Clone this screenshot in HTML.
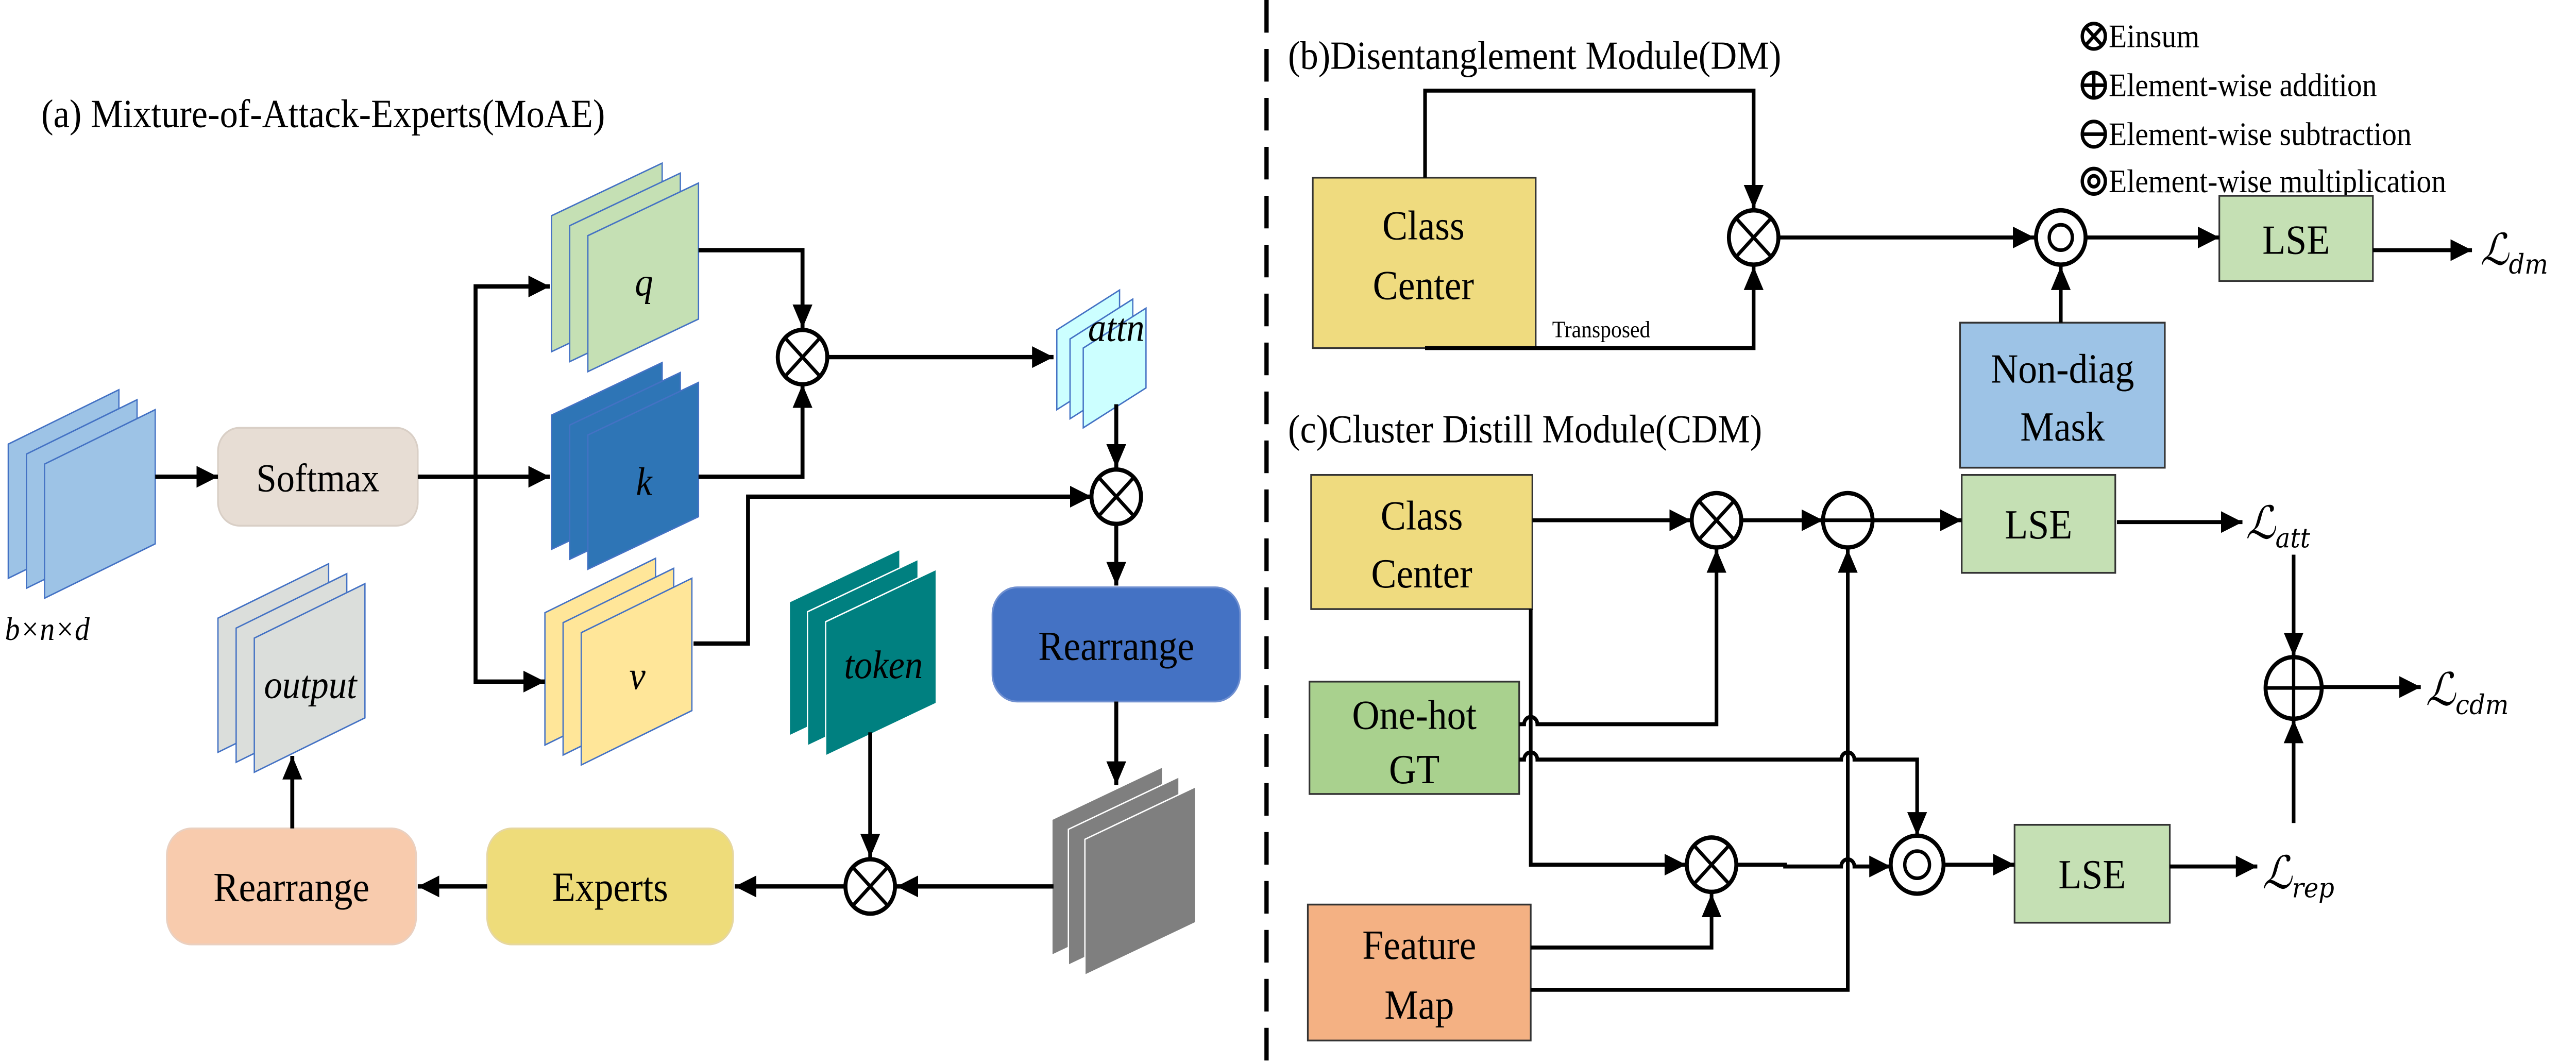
<!DOCTYPE html>
<html><head><meta charset="utf-8"><style>
html,body{margin:0;padding:0;background:#fff;width:100%;height:100%;overflow:hidden}
svg{display:block;position:absolute;left:0;top:0;width:100vw;height:100vh;font-family:"Liberation Serif","DejaVu Serif",serif}
.m{font-family:"DejaVu Serif",serif}
</style></head><body>
<svg xmlns="http://www.w3.org/2000/svg" viewBox="0 0 1560 586.4" preserveAspectRatio="none">
<defs>
<marker id="a" markerUnits="userSpaceOnUse" markerWidth="14" markerHeight="12" refX="13" refY="6" orient="auto"><path d="M0,0 L13,6 L0,12 z" fill="#000"/></marker>
</defs>
<rect width="1560" height="586.4" fill="#fff"/>
<line x1="767" y1="0" x2="767" y2="586" stroke="#000" stroke-dasharray="18,9" stroke-width="2.6"/>

<text x="25" y="70" font-size="22">(a) Mixture-of-Attack-Experts(MoAE)</text>
<text x="780" y="38" font-size="22">(b)Disentanglement Module(DM)</text>
<text x="780" y="244" font-size="22">(c)Cluster Distill Module(CDM)</text>

<g stroke="#4472c4" stroke-width="0.8">
<g fill="#9dc3e6">
<polygon points="5,245 72,215 72,289 5,319"/>
<polygon points="16,250.5 83,220.5 83,294.5 16,324.5"/>
<polygon points="27,256 94,226 94,300 27,330"/>
</g>
<g fill="#c5e0b4">
<polygon points="334,119 401,90 401,165 334,194"/>
<polygon points="345,124.5 412,95.5 412,170.5 345,199.5"/>
<polygon points="356,130 423,101 423,176 356,205"/>
</g>
<g fill="#2e75b6">
<polygon points="334,229 401,200 401,274 334,303"/>
<polygon points="345,234.5 412,205.5 412,279.5 345,308.5"/>
<polygon points="356,240 423,211 423,285 356,314"/>
</g>
<g fill="#ffe699">
<polygon points="330,338 397,308 397,381 330,411"/>
<polygon points="341,343.5 408,313.5 408,386.5 341,416.5"/>
<polygon points="352,349 419,319 419,392 352,422"/>
</g>
<g fill="#ccffff">
<polygon points="640,182 678,160 678,204 640,226"/>
<polygon points="648,187 686,165 686,209 648,231"/>
<polygon points="656,192 694,170 694,214 656,236"/>
</g>
<g fill="#dbdedb">
<polygon points="132,341 199,311 199,385 132,415"/>
<polygon points="143,346.5 210,316.5 210,390.5 143,420.5"/>
<polygon points="154,352 221,322 221,396 154,426"/>
</g>
</g>
<g stroke="#ffffff" stroke-width="0.8">
<g fill="#008080">
<polygon points="478,332 545,303 545,377 478,406"/>
<polygon points="489,337.5 556,308.5 556,382.5 489,411.5"/>
<polygon points="500,343 567,314 567,388 500,417"/>
</g>
<g fill="#7f7f7f">
<polygon points="637,452 704,423 704,498 637,527"/>
<polygon points="647,457.5 714,428.5 714,503.5 647,532.5"/>
<polygon points="657,463 724,434 724,509 657,538"/>
</g>
</g>
<g font-style="italic" font-size="22" text-anchor="middle">
<text x="390" y="163">q</text>
<text x="390" y="273">k</text>
<text x="386" y="380">v</text>
<text x="676" y="188">attn</text>
<text x="535" y="374">token</text>
<text x="188" y="385">output</text>
</g>
<text x="3" y="353" font-size="18" font-style="italic">b×n×d</text>

<rect x="132" y="236" width="121" height="54" rx="13" fill="#e7ddd4" stroke="#d9cfc6"/>
<text x="192.5" y="271" font-size="22" text-anchor="middle">Softmax</text>
<rect x="601" y="324" width="150" height="63" rx="15" fill="#4472c4" stroke="#6f8fd0"/>
<text x="676" y="364" font-size="23" text-anchor="middle">Rearrange</text>
<rect x="295" y="457" width="149" height="64" rx="15" fill="#eedc7a" stroke="#e6d7a0"/>
<text x="369.5" y="497" font-size="23" text-anchor="middle">Experts</text>
<rect x="101" y="457" width="151" height="64" rx="15" fill="#f8cbad" stroke="#ead0c0"/>
<text x="176.5" y="497" font-size="23" text-anchor="middle">Rearrange</text>

<g fill="none" stroke="#000" stroke-width="2.4">
<line x1="94" y1="263" x2="132" y2="263" marker-end="url(#a)"/>
<line x1="253" y1="263" x2="333" y2="263" marker-end="url(#a)"/>
<polyline points="288,263 288,158 333,158" marker-end="url(#a)"/>
<polyline points="288,263 288,376 330,376" marker-end="url(#a)"/>
<polyline points="423,138 486,138 486,181" marker-end="url(#a)"/>
<polyline points="423,263 486,263 486,212" marker-end="url(#a)"/>
<line x1="501" y1="197" x2="638" y2="197" marker-end="url(#a)"/>
<polyline points="676,223 676,258" marker-end="url(#a)"/>
<polyline points="420,355 453,355 453,274 661,274" marker-end="url(#a)"/>
<line x1="676" y1="289" x2="676" y2="323" marker-end="url(#a)"/>
<line x1="676" y1="387" x2="676" y2="433" marker-end="url(#a)"/>
<line x1="638" y1="489" x2="543" y2="489" marker-end="url(#a)"/>
<line x1="527" y1="404" x2="527" y2="473" marker-end="url(#a)"/>
<line x1="511" y1="489" x2="445" y2="489" marker-end="url(#a)"/>
<line x1="295" y1="489" x2="253" y2="489" marker-end="url(#a)"/>
<line x1="177" y1="457" x2="177" y2="417" marker-end="url(#a)"/>
</g>
<g fill="#fff" stroke="#000" stroke-width="2.4">
<circle cx="486" cy="197" r="15"/>
<circle cx="676" cy="274" r="15"/>
<circle cx="527" cy="489" r="15"/>
</g>
<g stroke="#000" stroke-width="2">
<path d="M475.4,186.4 L496.6,207.6 M496.6,186.4 L475.4,207.6"/>
<path d="M665.4,263.4 L686.6,284.6 M686.6,263.4 L665.4,284.6"/>
<path d="M516.4,478.4 L537.6,499.6 M537.6,478.4 L516.4,499.6"/>
</g>

<g fill="none" stroke="#000" stroke-width="2">
<circle cx="1268" cy="20" r="7"/><path d="M1263,15 L1273,25 M1273,15 L1263,25"/>
<circle cx="1268" cy="47" r="7"/><path d="M1261,47 L1275,47 M1268,40 L1268,54"/>
<circle cx="1268" cy="74" r="7"/><path d="M1261,74 L1275,74"/>
<circle cx="1268" cy="100" r="7"/><circle cx="1268" cy="100" r="3"/>
</g>
<g font-size="18">
<text x="1277" y="26">Einsum</text>
<text x="1277" y="53">Element-wise addition</text>
<text x="1277" y="80">Element-wise subtraction</text>
<text x="1277" y="106">Element-wise multiplication</text>
</g>

<rect x="795" y="98" width="135" height="94" fill="#efdb7f" stroke="#333" stroke-width="1"/>
<text x="862" y="132" font-size="23" text-anchor="middle">Class</text>
<text x="862" y="165" font-size="23" text-anchor="middle">Center</text>
<rect x="1187" y="178" width="124" height="80" fill="#9dc3e6" stroke="#333" stroke-width="1"/>
<text x="1249" y="211" font-size="23" text-anchor="middle">Non-diag</text>
<text x="1249" y="243" font-size="23" text-anchor="middle">Mask</text>
<rect x="1344" y="108" width="93" height="47" fill="#c5e0b4" stroke="#333" stroke-width="1"/>
<text x="1390.5" y="140" font-size="23" text-anchor="middle">LSE</text>
<text x="940" y="186" font-size="13">Transposed</text>
<g fill="none" stroke="#000" stroke-width="2.2">
<polyline points="863,98 863,50 1062,50 1062,115" marker-end="url(#a)"/>
<polyline points="863,192 1062,192 1062,147" marker-end="url(#a)"/>
<line x1="1077" y1="131" x2="1232" y2="131" marker-end="url(#a)"/>
<line x1="1263" y1="131" x2="1344" y2="131" marker-end="url(#a)"/>
<line x1="1248" y1="178" x2="1248" y2="147" marker-end="url(#a)"/>
<line x1="1437" y1="138" x2="1497" y2="138" marker-end="url(#a)"/>
</g>
<g fill="#fff" stroke="#000" stroke-width="2.4">
<circle cx="1062" cy="131" r="15"/>
<circle cx="1248" cy="131" r="15"/>
</g>
<g fill="none" stroke="#000" stroke-width="2">
<path d="M1051.4,120.4 L1072.6,141.6 M1072.6,120.4 L1051.4,141.6"/>
<circle cx="1248" cy="131" r="7"/>
</g>
<text class="m" x="1502" y="146" font-size="24" font-style="italic">ℒ<tspan font-size="15" dy="5">dm</tspan></text>

<rect x="794" y="262" width="134" height="74" fill="#efdb7f" stroke="#333" stroke-width="1"/>
<text x="861" y="292" font-size="23" text-anchor="middle">Class</text>
<text x="861" y="324" font-size="23" text-anchor="middle">Center</text>
<rect x="793" y="376" width="127" height="62" fill="#a9d18e" stroke="#333" stroke-width="1"/>
<text x="856.5" y="402" font-size="23" text-anchor="middle">One-hot</text>
<text x="856.5" y="432" font-size="23" text-anchor="middle">GT</text>
<rect x="792" y="499" width="135" height="75" fill="#f4b183" stroke="#333" stroke-width="1"/>
<text x="859.5" y="529" font-size="23" text-anchor="middle">Feature</text>
<text x="859.5" y="562" font-size="23" text-anchor="middle">Map</text>
<rect x="1188" y="262" width="93" height="54" fill="#c5e0b4" stroke="#333" stroke-width="1"/>
<text x="1234.5" y="297" font-size="23" text-anchor="middle">LSE</text>
<rect x="1220" y="455" width="94" height="54" fill="#c5e0b4" stroke="#333" stroke-width="1"/>
<text x="1267" y="490" font-size="23" text-anchor="middle">LSE</text>

<g fill="none" stroke="#000" stroke-width="2.2">
<line x1="928" y1="287" x2="1024" y2="287" marker-end="url(#a)"/>
<line x1="1054" y1="287" x2="1104" y2="287" marker-end="url(#a)"/>
<line x1="1134" y1="287" x2="1188" y2="287" marker-end="url(#a)"/>
<line x1="1282" y1="288" x2="1358" y2="288" marker-end="url(#a)"/>
<line x1="1389" y1="306" x2="1389" y2="362" marker-end="url(#a)"/>
<line x1="1406" y1="379" x2="1466" y2="379" marker-end="url(#a)"/>
<line x1="1389" y1="454" x2="1389" y2="397" marker-end="url(#a)"/>
<line x1="1314" y1="478" x2="1367" y2="478" marker-end="url(#a)"/>
<line x1="1177" y1="477" x2="1220" y2="477" marker-end="url(#a)"/>
<polyline points="927,336 927,477 1021,477" marker-end="url(#a)"/>
<path d="M920,399.5 L923,399.5 A4,4 0 0 1 931,399.5 L1039.5,399.5 L1039.5,303" marker-end="url(#a)"/>
<path d="M920,419 L923,419 A4,4 0 0 1 931,419 L1115,419 A4,4 0 0 1 1123,419 L1161,419 L1161,461" marker-end="url(#a)"/>
<path d="M1052,477 L1081,477 L1081,478 L1115,478 A4,4 0 0 1 1123,478 L1145,478" marker-end="url(#a)"/>
<polyline points="927,522.7 1036.5,522.7 1036.5,493" marker-end="url(#a)"/>
<polyline points="927,546 1119,546 1119,303" marker-end="url(#a)"/>
</g>
<g fill="#fff" stroke="#000" stroke-width="2.4">
<circle cx="1039.5" cy="287" r="15"/>
<circle cx="1119" cy="287" r="15"/>
<circle cx="1389" cy="379.5" r="17"/>
<circle cx="1036.5" cy="477" r="15"/>
<circle cx="1161" cy="477" r="16"/>
</g>
<g fill="none" stroke="#000" stroke-width="2">
<path d="M1028.9,276.4 L1050.1,297.6 M1050.1,276.4 L1028.9,297.6"/>
<path d="M1104,287 L1134,287"/>
<path d="M1372,379.5 L1406,379.5 M1389,362.5 L1389,396.5"/>
<path d="M1025.9,466.4 L1047.1,487.6 M1047.1,466.4 L1025.9,487.6"/>
<circle cx="1161" cy="477" r="7.5"/>
</g>
<g class="m" font-size="25" font-style="italic">
<text x="1360" y="297">ℒ<tspan font-size="15" dy="5">att</tspan></text>
<text x="1469" y="389">ℒ<tspan font-size="15" dy="5">cdm</tspan></text>
<text x="1370" y="490">ℒ<tspan font-size="15" dy="5">rep</tspan></text>
</g>
</svg>
</body></html>
